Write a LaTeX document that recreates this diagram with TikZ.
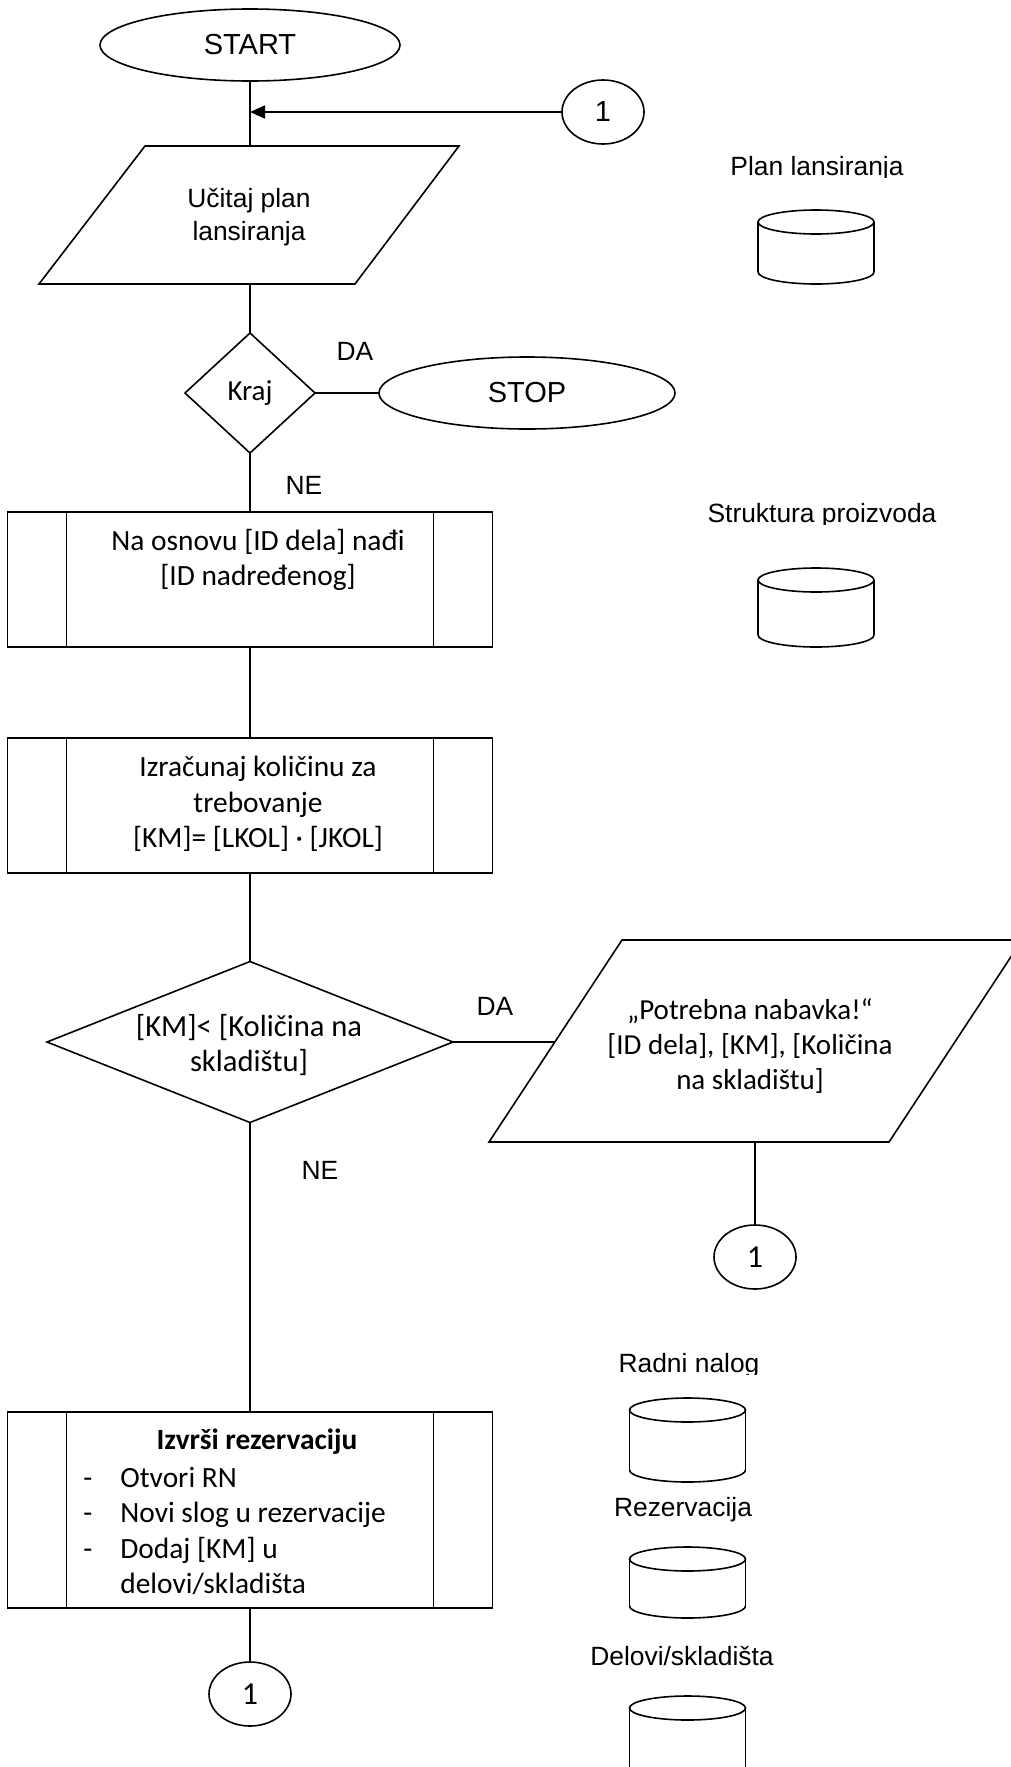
\documentclass[tikz,border=0pt]{standalone}
\usepackage{fontspec}
\setmainfont{Carlito}
\newfontfamily\arialf{Liberation Sans}
\usetikzlibrary{shapes.geometric,arrows.meta,calc}
\tikzset{
  shp/.style={draw, line width=0.8pt, outer sep=0pt, inner sep=0pt},
  term/.style={shp, ellipse, minimum width=150pt, minimum height=36pt, font=\arialf\fontsize{14.5}{17}\selectfont},
  conn/.style={shp, ellipse, minimum width=41pt, minimum height=32pt},
  dec/.style={shp, diamond},
  proc/.style={shp, rectangle, minimum width=242.5pt},
  cal/.style={font=\fontsize{14.5}{17.5}\selectfont, align=center, inner sep=0pt},
  calb/.style={font=\fontsize{14.7}{17.7}\selectfont, align=center, inner sep=0pt},
  ari/.style={font=\arialf\fontsize{13.2}{15}\selectfont, inner sep=0pt},
  wire/.style={line width=0.75pt},
  shpline/.style={line width=0.8pt, line join=miter},
}
\newcommand\sidebars[1]{%
  \draw[shpline] ($(#1.north west)+(59,0)$) -- ($(#1.south west)+(59,0)$);
  \draw[shpline] ($(#1.north east)+(-59,0)$) -- ($(#1.south east)+(-59,0)$);}
\newcommand\dbcyl[3]{%
  \draw[shpline] (#1,#2+12) ellipse [x radius=29pt, y radius=6pt];
  \draw[shpline] (#1-58,#2+12) -- (#1-58,#3-12);
  \draw[shpline] (#1+58,#2+12) -- (#1+58,#3-12);
  \draw[shpline] (#1-58,#3-12) .. controls (#1-58,#3-5.4) and (#1-32,#3) .. (#1,#3)
     .. controls (#1+32,#3) and (#1+58,#3-5.4) .. (#1+58,#3-12);}
\begin{document}
\begin{tikzpicture}[x=0.5pt,y=-0.5pt]
\useasboundingbox (0,0) rectangle (1011,1767);

% START and top connector
\node[term] (start) at (250,45) {START};
\node[conn, font=\arialf\fontsize{14.5}{16}\selectfont] (c1) at (603,112) {1};
\coordinate (j) at (250,112);

% input parallelogram 1
\draw[shpline] (145,146) -- (459,146) -- (355,284) -- (39,284) -- cycle;
\coordinate (p1top) at (250,146);
\coordinate (p1bot) at (250,284);
\node[ari, align=center, font=\arialf\fontsize{13.2}{16.5}\selectfont] (p1) at (249,217) {Učitaj plan\\lansiranja};

% decision Kraj
\node[dec, minimum width=65pt, minimum height=60pt, font=\fontsize{14.5}{17}\selectfont] (kraj) at (250,393) {Kraj};
\node[term, minimum width=148pt] (stop) at (527,393) {STOP};
\node[ari] (da1) at (355,351) {DA};
\node[ari] (ne1) at (304,485) {NE};

% process boxes
\node[proc, minimum height=67.5pt] (b1) at (250,579.5) {};
\sidebars{b1}
\node[calb] (b1t) at (258,560) {Na osnovu [ID dela] nađi\\\relax[ID nadređenog]};

\node[proc, minimum height=67.5pt] (b2) at (250,805.5) {};
\sidebars{b2}
\node[calb] (b2t) at (258,804) {Izračunaj količinu za\\trebovanje\\\relax[KM]= [LKOL] · [JKOL]};

% decision 2
\node[dec, aspect=2.52, minimum width=203pt, minimum height=80.5pt] (d2) at (250,1042) {};
\node[cal, font=\fontsize{15.3}{17.5}\selectfont] (d2t) at (249,1045) {[KM]< [Količina na\\skladištu]};
\node[ari] (da2) at (495,1006) {DA};
\node[ari] (ne2) at (320,1170) {NE};

% output parallelogram 2
\draw[shpline] (622,940) -- (1022,940) -- (889,1142) -- (489,1142) -- cycle;
\coordinate (p2left) at (555,1042);
\coordinate (p2bot) at (755,1142);
\node[cal] (p2t) at (750,1046) {„Potrebna nabavka!“\\\relax[ID dela], [KM], [Količina\\na skladištu]};
\node[conn, font=\fontsize{16}{18}\selectfont] (c2) at (755,1257) {1};

% process box 3
\node[proc, minimum height=98pt] (b3) at (250,1510) {};
\sidebars{b3}
\node[calb, font={\fontsize{14.7}{17.7}\selectfont\bfseries}] (b3t) at (257,1442) {Izvrši rezervaciju};
\node[calb, align=left, anchor=west] (b3l) at (83,1531) {\makebox[18.5pt][l]{-}Otvori RN\\
\makebox[18.5pt][l]{-}Novi slog u rezervacije\\
\makebox[18.5pt][l]{-}Dodaj [KM] u\\
\hspace*{18.5pt}delovi/skladišta};
\node[conn, font=\fontsize{16}{18}\selectfont] (c3) at (250,1694) {1};

% connectors
\draw[wire] (start.south) -- (p1top);
\draw[wire, -{Triangle[length=7.5pt,width=6.5pt]}] (c1.west) -- (j);
\draw[wire] (p1bot) -- (kraj.north);
\draw[wire] (kraj.east) -- (stop.west);
\draw[wire] (kraj.south) -- (b1.north);
\draw[wire] (b1.south) -- (b2.north);
\draw[wire] (b2.south) -- (d2.north);
\draw[wire] (d2.east) -- (p2left);
\draw[wire] (p2bot) -- (c2.north);
\draw[wire] (d2.south) -- (b3.north);
\draw[wire] (b3.south) -- (c3.north);

% data stores
\begin{scope}
\clip (600,100) rectangle (1011,177);
\node[ari, anchor=base] (lplan) at (817,175) {Plan lansiranja};
\end{scope}
\dbcyl{816}{210}{284}
\begin{scope}
\clip (600,480) rectangle (1011,524);
\node[ari, anchor=base] (lstr) at (822,522) {Struktura proizvoda};
\end{scope}
\dbcyl{816}{568}{647}
\begin{scope}
\clip (560,1330) rectangle (860,1374);
\node[ari, anchor=base] (lrn) at (689,1372) {Radni nalog};
\end{scope}
\dbcyl{687.5}{1398}{1482}
\node[ari, anchor=base] (lrez) at (683,1516) {Rezervacija};
\dbcyl{687.5}{1547}{1618}
\node[ari, anchor=base] (ldel) at (682,1665) {Delovi/skladišta};
\dbcyl{687.5}{1696}{1780}
\end{tikzpicture}
\end{document}
